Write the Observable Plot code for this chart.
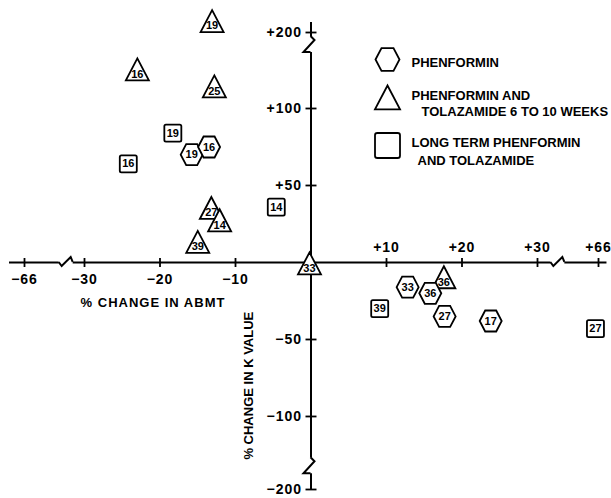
<!DOCTYPE html>
<html><head><meta charset="utf-8">
<script src="https://cdn.jsdelivr.net/npm/d3@7"></script>
<script src="https://cdn.jsdelivr.net/npm/@observablehq/plot@0.6"></script>
<style>body{margin:0;background:#fff}</style>
</head><body><div id="chart"></div>
<script>
// ---- data ----
const phenLabels = ["19","16","33","36","27","17"];
const phenX = [-15.8,-13.5,12.8,15.8,17.7,23.8];
const phenY = [70,75,-16,-20,-35,-38];

const combLabels = ["19","16","25","27","14","39","33","36"];
const combX = [-13.1,-23.0,-12.8,-13.2,-12.1,-15.0,-0.2,17.6];
const combY = [205,123,112,33,25,11,-3,-12];

const longLabels = ["19","16","14","39","27"];
const longX = [-18.3,-24.2,-4.6,9.1,64.2];
const longY = [84,64,36,-30,-43];

const xTicks = [-66,-30,-20,-10,10,20,30,66];
const xTickLabels = ["−66","−30","−20","−10","+10","+20","+30","+66"];
const yTicks = [200,100,50,-50,-100,-200];
const yTickLabels = ["+200","+100","+50","−50","−100","−200"];
const xBreaks = [-41, 42];
const yBreaks = [-132, 150];
const xAxisExtent = [-75, 71];
const yAxisExtent = [-200, 206.5];
const legendLines = [["PHENFORMIN"],["PHENFORMIN AND","TOLAZAMIDE 6 TO 10 WEEKS"],["LONG TERM PHENFORMIN","AND TOLAZAMIDE"]];
const xTitle = "% CHANGE IN ABMT";
const yTitle = "% CHANGE IN K VALUE";

// ---- symbols ----
const sc = size => Math.sqrt(size/Math.PI)/10;
const hexSym = {draw(c,size){const s=sc(size),w=11*s,h=10.5*s;c.moveTo(-w,0);c.lineTo(-w/2,-h);c.lineTo(w/2,-h);c.lineTo(w,0);c.lineTo(w/2,h);c.lineTo(-w/2,h);c.closePath();}};
const triSym = {draw(c,size){const s=sc(size);c.moveTo(0,-14.7*s);c.lineTo(11.5*s,7.3*s);c.lineTo(-11.5*s,7.3*s);c.closePath();}};
const sqSym = {draw(c,size){const s=sc(size),h=8.5*s,r=1.6*s;c.moveTo(-h+r,-h);c.lineTo(h-r,-h);c.arcTo(h,-h,h,-h+r,r);c.lineTo(h,h-r);c.arcTo(h,h,h-r,h,r);c.lineTo(-h+r,h);c.arcTo(-h,h,-h,h-r,r);c.lineTo(-h,-h+r);c.arcTo(-h,-h,-h+r,-h,r);c.closePath();}};
const vTick = {draw(c,size){const h=Math.sqrt(size/Math.PI);c.moveTo(0,-h);c.lineTo(0,h);}};
const hTick = {draw(c,size){const h=Math.sqrt(size/Math.PI);c.moveTo(-h,0);c.lineTo(h,0);}};

const FONT = "'Liberation Sans', Arial, sans-serif";
const marks = [];

// axes
marks.push(Plot.ruleY([0], {x1: () => xAxisExtent[0], x2: () => xAxisExtent[1], stroke: "black", strokeWidth: 2}));
marks.push(Plot.ruleX([0], {y1: () => yAxisExtent[0], y2: () => yAxisExtent[1], stroke: "black", strokeWidth: 2}));
marks.push(Plot.dot(xTicks, {x: d => d, y: () => 0, symbol: vTick, r: 4.5, fill: "none", stroke: "black", strokeWidth: 1.8}));
marks.push(Plot.dot(yTicks, {x: () => 0, y: d => d, symbol: hTick, r: 5.5, fill: "none", stroke: "black", strokeWidth: 1.8}));
marks.push(Plot.text(xTicks.map((d,i)=>i).filter(i=>xTicks[i]<0), {x: i => xTicks[i], y: () => 0, text: i => xTickLabels[i], dy: 17, fontSize: 14, fontWeight: "bold", fontFamily: FONT, fill: "black"}));
marks.push(Plot.text(xTicks.map((d,i)=>i).filter(i=>xTicks[i]>0), {x: i => xTicks[i], y: () => 0, text: i => xTickLabels[i], dy: -15, fontSize: 14, fontWeight: "bold", fontFamily: FONT, fill: "black"}));
marks.push(Plot.text(yTicks.map((d,i)=>i), {x: () => 0, y: i => yTicks[i], text: i => yTickLabels[i], dx: -9, textAnchor: "end", fontSize: 14, fontWeight: "bold", fontFamily: FONT, fill: "black"}));
marks.push(Plot.text([xTitle], {x: () => -20, y: () => 0, text: d => d, dx: -7, dy: 40, fontSize: 13, fontWeight: "bold", fontFamily: FONT, fill: "black"}));
marks.push(Plot.text([yTitle], {x: () => 0, y: () => -80, text: d => d, dx: -62, rotate: -90, fontSize: 13, fontWeight: "bold", fontFamily: FONT, fill: "black"}));

// points: triangles, hexagons, squares, each with its number
function addGroup(X, Y, L, symbol, labelDy) {
  X.forEach((_, i) => {
    marks.push(Plot.dot([i], {x: j => X[j], y: j => Y[j], symbol, r: 10, fill: "white", stroke: "black", strokeWidth: 1.8}));
    marks.push(Plot.text([i], {x: j => X[j], y: j => Y[j], text: j => L[j], dy: labelDy, fontSize: 11, fontWeight: "bold", fontFamily: FONT, fill: "black"}));
  });
}
addGroup(combX, combY, combLabels, triSym, 1);
addGroup(phenX, phenY, phenLabels, hexSym, 0);
addGroup(longX, longY, longLabels, sqSym, 0);

// legend
const legSyms = [hexSym, triSym, sqSym];
const legR = [10.9, 10.9, 14.7];
const legDy = [59, 101, 145];
const legTextDy = [[57],[90,106],[137,155]];
const legTextDx = [[411],[411,421],[411,417]];
legendLines.forEach((lines, k) => {
  marks.push(Plot.dot([k], {frameAnchor: "top-left", dx: 387, dy: legDy[k], symbol: legSyms[k], r: legR[k], fill: "white", stroke: "black", strokeWidth: 1.8}));
  lines.forEach((t, j) => {
    marks.push(Plot.text([t], {frameAnchor: "top-left", dx: legTextDx[k][j], dy: legTextDy[k][j], text: d => d, textAnchor: "start", fontSize: 13, fontWeight: "bold", fontFamily: FONT, fill: "black"}));
  });
});

const chart = Plot.plot({
  width: 611, height: 498,
  marginTop: 0, marginRight: 0, marginBottom: 0, marginLeft: 0,
  style: {fontFamily: FONT, background: "white", color: "black"},
  x: {type: "linear", domain: [-66, -30, 30, 66], range: [24, 84, 537, 598], axis: null},
  y: {type: "linear", domain: [-200, -138, 140, 200, 215], range: [489, 474.5, 46.4, 32, 9], axis: null},
  marks
});
document.getElementById("chart").appendChild(chart);

// axis break glyphs placed through the plot's scales
const sx = chart.scale("x").apply, sy = chart.scale("y").apply;
const svg = d3.select(chart);
const g = svg.append("g");
xBreaks.forEach(b => {
  const cx = sx(b), cy = sy(0);
  g.append("line").attr("x1", cx-7).attr("x2", cx+7).attr("y1", cy).attr("y2", cy).attr("stroke", "white").attr("stroke-width", 4);
  g.append("path").attr("d", `M${cx-7},${cy}L${cx-4},${cy+4}L${cx+5},${cy-5}L${cx+7},${cy}`).attr("fill", "none").attr("stroke", "black").attr("stroke-width", 2);
});
yBreaks.forEach(b => {
  const cx = sx(0), cy = sy(b);
  g.append("line").attr("x1", cx).attr("x2", cx).attr("y1", cy-8).attr("y2", cy+8).attr("stroke", "white").attr("stroke-width", 4);
  g.append("path").attr("d", `M${cx},${cy-8}L${cx+4},${cy-4}L${cx-7},${cy+8}L${cx},${cy+8}`).attr("fill", "none").attr("stroke", "black").attr("stroke-width", 2);
});
// letter spacing for tick labels and x title
const spaced = new Set([...xTickLabels, ...yTickLabels, xTitle]);
svg.selectAll("text").each(function() { if (spaced.has(this.textContent)) d3.select(this).attr("letter-spacing", "1"); });
</script>
</body></html>
